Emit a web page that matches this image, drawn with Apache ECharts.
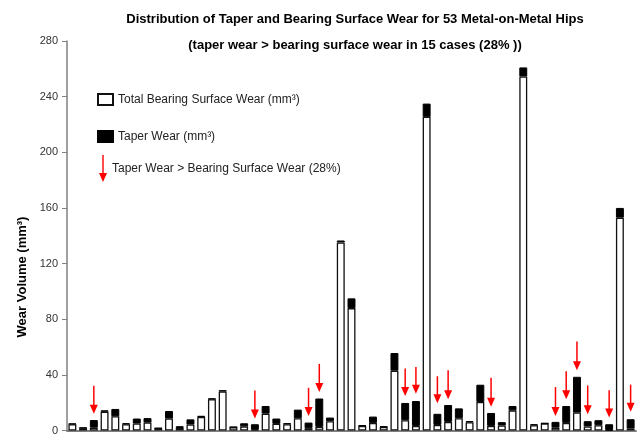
<!DOCTYPE html>
<html>
<head>
<meta charset="utf-8">
<script src="https://cdn.jsdelivr.net/npm/echarts@6/dist/echarts.min.js"></script>
<style>
html,body{margin:0;padding:0;background:#fff;}
#main{width:642px;height:436px;}
</style>
</head>
<body>
<div id="main"></div>
<script>
// hip number 1..53
var hips = [];
for (var i = 1; i <= 53; i++) hips.push(String(i));

// total bearing surface wear (mm3)
var bearingWear = [4.5, 1.7, 2, 13.5, 10.2, 4.5, 5, 5.7, 1.5, 8.6,
	1.8, 4.3, 9.8, 22.5, 28, 2.3, 3, 0.5, 12.1, 4.8,
	4.5, 8.8, 1.7, 2.6, 6.7, 135.2, 88, 3.3, 5.5, 2.5,
	43, 7.4, 3.3, 225.5, 4, 6.2, 8.8, 6, 20.5, 3.3,
	3.6, 14.5, 254.5, 3.8, 5, 2.1, 5.5, 12.9, 2.9, 3.8,
	0.3, 153, 1.4];

// taper wear (mm3)
var taperWear = [0.5, 0.4, 5.5, 1, 5.3, 0.7, 3.6, 3.2, 0.3, 5.4,
	1.3, 3.7, 0.7, 0.5, 1, 0.3, 2.2, 4, 5.5, 3.8,
	0.8, 6.2, 4, 20.4, 2.6, 1.4, 7, 0.5, 4.5, 0.5,
	12.7, 12.4, 17.9, 9.5, 8, 12.1, 7.1, 0.7, 12.4, 9.3,
	2.4, 3.1, 6.5, 0.7, 0.3, 4.1, 12.1, 25.7, 3.8, 3.6,
	4.2, 7, 6.7];

// hips where taper wear > bearing surface wear, with arrow tip / tail levels
var arrowHips = [3, 18, 23, 24, 32, 33, 35, 36, 40, 46, 47, 48, 49, 51, 53];
var arrowTip = [12.1, 8.6, 10.5, 27.6, 24.8, 26.4, 19.5, 22.4, 17.1, 10.5, 22.4, 43.4, 11.6, 9.3, 13.4];
var arrowTail = [32.1, 28.8, 30.7, 47.9, 44.5, 45.7, 39, 43.4, 37.9, 31.2, 42.6, 64, 32.4, 29, 33];

var yTicks = [0, 40, 80, 120, 160, 200, 240, 280];

var arrowData = [];
for (var k = 0; k < arrowHips.length; k++) {
	arrowData.push([arrowHips[k] - 1, arrowTip[k], arrowTail[k]]);
}

var FONT = '"Liberation Sans", Arial, sans-serif';
var ARROW_NAME = 'Taper Wear > Bearing Surface Wear (28%)';

function renderArrow(params, api) {
	var tip = api.coord([api.value(0), api.value(1)]);
	var tail = api.coord([api.value(0), api.value(2)]);
	var headH = 9, headW = 4;
	return {
		type: 'group',
		children: [{
			type: 'line',
			shape: {x1: tip[0], y1: tail[1], x2: tip[0], y2: tip[1] - headH + 1},
			style: {stroke: '#ff0000', lineWidth: 1.5}
		}, {
			type: 'polygon',
			shape: {points: [[tip[0] - headW, tip[1] - headH], [tip[0] + headW, tip[1] - headH], [tip[0], tip[1]]]},
			style: {fill: '#ff0000'}
		}]
	};
}

var myChart = echarts.init(document.getElementById('main'));

var option = {
	animation: false,
	title: [{
		text: 'Distribution of Taper and Bearing Surface Wear for 53 Metal-on-Metal Hips',
		left: 350, top: 8, textAlign: 'center',
		textStyle: {fontFamily: FONT, fontSize: 13, fontWeight: 'bold', color: '#000'}
	}, {
		text: '(taper wear > bearing surface wear in 15 cases (28% ))',
		left: 350, top: 34, textAlign: 'center',
		textStyle: {fontFamily: FONT, fontSize: 13, fontWeight: 'bold', color: '#000'}
	}],
	legend: [{
		data: ['Total Bearing Surface Wear (mm³)', 'Taper Wear (mm³)'],
		orient: 'vertical',
		left: 92, top: 88,
		itemWidth: 15, itemHeight: 11, itemGap: 24,
		icon: 'rect',
		selectedMode: false,
		textStyle: {fontFamily: FONT, fontSize: 12, color: '#222'}
	}, {
		data: [{name: ARROW_NAME, icon: 'path://M3.3,0 L4.7,0 L4.7,18 L8,18 L4,27 L0,18 L3.3,18 Z'}],
		left: 94, top: 150,
		itemWidth: 8, itemHeight: 27,
		selectedMode: false,
		textStyle: {fontFamily: FONT, fontSize: 12, color: '#222'}
	}],
	grid: {left: 67, right: 6, top: 41, bottom: 3},
	xAxis: {
		type: 'category',
		data: hips,
		axisLine: {lineStyle: {color: '#808080', width: 2}},
		axisTick: {show: false},
		axisLabel: {show: false}
	},
	yAxis: {
		type: 'value',
		min: yTicks[0],
		max: yTicks[yTicks.length - 1],
		interval: 40,
		axisLine: {show: true, lineStyle: {color: '#808080', width: 1.5}},
		axisTick: {show: true, length: 5, lineStyle: {color: '#808080'}},
		splitLine: {show: false},
		axisLabel: {fontFamily: FONT, fontSize: 11, color: '#333', margin: 9}
	},
	graphic: [{
		type: 'text',
		x: 22, y: 277,
		rotation: Math.PI / 2,
		style: {
			text: 'Wear Volume (mm³)',
			font: 'bold 13px ' + FONT,
			fill: '#000',
			align: 'center',
			verticalAlign: 'middle'
		}
	}],
	series: [{
		name: 'Total Bearing Surface Wear (mm³)',
		type: 'bar',
		stack: 'wear',
		barWidth: '74%',
		data: bearingWear,
		itemStyle: {color: '#fff', borderColor: '#111', borderWidth: 1.3}
	}, {
		name: 'Taper Wear (mm³)',
		type: 'bar',
		stack: 'wear',
		barWidth: '74%',
		data: taperWear,
		itemStyle: {color: '#000', borderColor: '#000', borderWidth: 1}
	}, {
		name: ARROW_NAME,
		type: 'custom',
		renderItem: renderArrow,
		data: arrowData,
		itemStyle: {color: '#ff0000'},
		z: 5
	}]
};

myChart.setOption(option);
</script>
</body>
</html>
